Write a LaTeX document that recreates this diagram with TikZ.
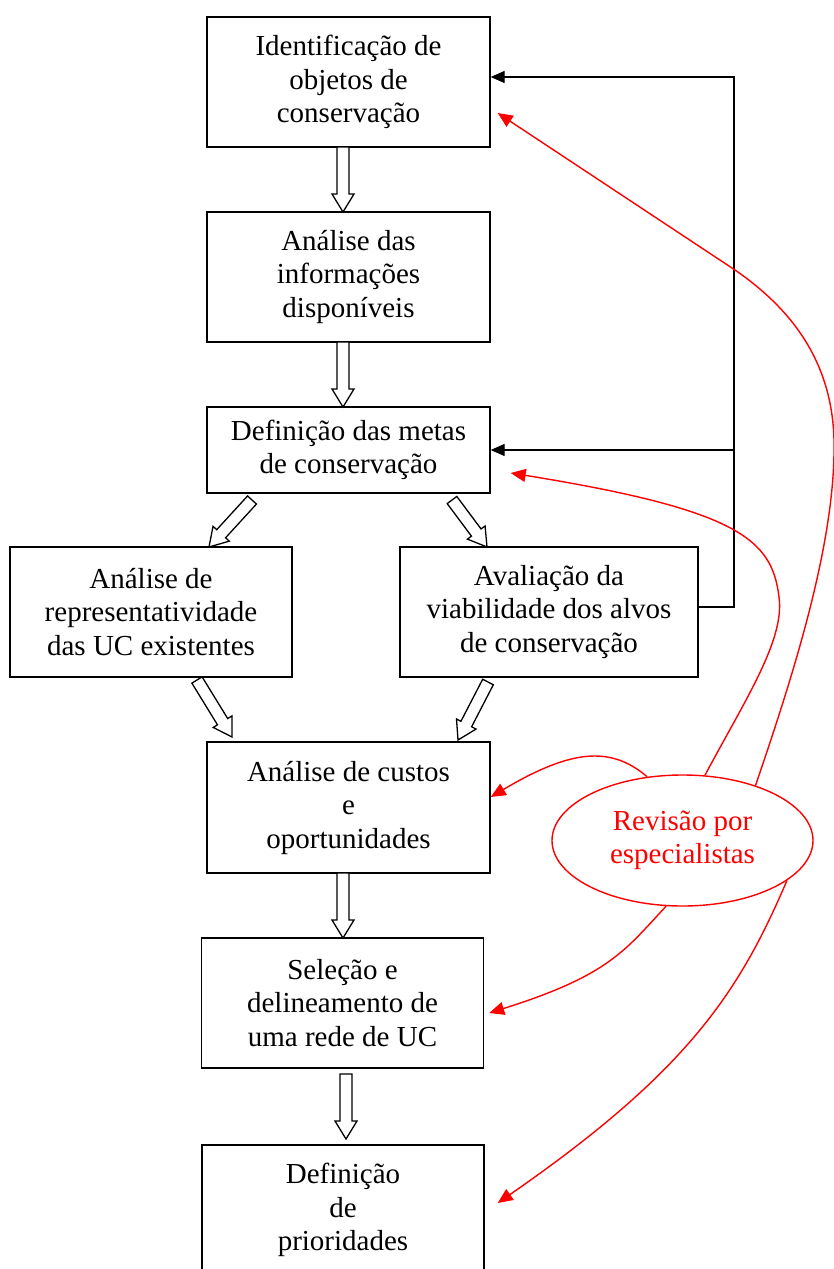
\documentclass[tikz,border=0pt]{standalone}
\usepackage{fontspec}
\setmainfont{Liberation Serif}
\usetikzlibrary{calc,shapes.geometric,arrows.meta}
\newcommand{\blockarrow}[2]{%
  \path ($(#2)!18pt!(#1)$) coordinate (hh);
  \draw[blkarrow] ($(#1)!6pt!90:(#2)$) -- ($(hh)!6pt!90:(#2)$) -- ($(hh)!11pt!90:(#2)$) -- (#2)
     -- ($(hh)!11pt!-90:(#2)$) -- ($(hh)!6pt!-90:(#2)$) -- ($(#1)!6pt!-90:(#2)$) -- cycle;}
\tikzset{
  box/.style={draw, line width=1.4pt, minimum height=130pt, inner sep=0pt, align=center,
    font=\fontsize{29}{33.5}\selectfont},
  blkarrow/.style={draw, line width=1.3pt, fill=white, line join=miter},
  fbl/.style={line width=1.4pt, -{Triangle[length=14pt,width=12pt]}},
  rev/.style={draw=red, text=red, ellipse, line width=1.4pt, minimum width=261pt, minimum height=131pt,
    inner sep=0pt, align=center, font=\fontsize{29}{33.5}\selectfont},
  rl/.style={red, line width=1.4pt, -{Triangle[length=15pt,width=13pt]}}
}
\begin{document}
\begin{tikzpicture}[x=1pt,y=-1pt]
\useasboundingbox[fill=white] (0,0) rectangle (834,1269);
\node[box, minimum width=283pt] (b1) at (348.5,82) {Identificação de\\objetos de\\conservação};
\node[box, minimum width=283pt] (b2) at (348.5,277) {Análise das\\informações\\disponíveis};
\node[box, minimum width=283pt, minimum height=86pt] (b3) at (348.5,450) {Definição das metas\\de conservação};
\node[box, minimum width=282pt] (b4) at (151,612) {Análise de\\representatividade\\das UC existentes};
\node[box, minimum width=298pt] (b5) at (549,612) {Avaliação da\\viabilidade dos alvos\\de conservação};
\node[box, minimum width=283pt, minimum height=131pt] (b6) at (348.5,807.5) {Análise de custos\\e\\oportunidades};
\node[box, minimum width=282pt] (b7) at (342.5,1003) {Seleção e\\delineamento de\\uma rede de UC};
\node[box, minimum width=282pt] (b8) at (343,1210) {Definição\\de\\prioridades};
\node[rev] (rv) at (682.5,840.5) {Revisão por\\especialistas};

% hollow block arrows
\coordinate (s12) at (343,147); \coordinate (e12) at (343,212);
\coordinate (s23) at (343,342); \coordinate (e23) at (343,407);
\coordinate (s34) at (252,500); \coordinate (e34) at (209,547);
\coordinate (s35) at (452,500); \coordinate (e35) at (487,547);
\coordinate (s46) at (197,680); \coordinate (e46) at (232,737);
\coordinate (s56) at (488,682); \coordinate (e56) at (458,740);
\coordinate (s67) at (343,873); \coordinate (e67) at (343,938);
\coordinate (s78) at (346,1074); \coordinate (e78) at (346,1139);
\blockarrow{s12}{e12}
\blockarrow{s23}{e23}
\blockarrow{s34}{e34}
\blockarrow{s35}{e35}
\blockarrow{s46}{e46}
\blockarrow{s56}{e56}
\blockarrow{s67}{e67}
\blockarrow{s78}{e78}

% black feedback lines
\coordinate (bt) at (734,77);
\draw[fbl] ([yshift=5pt]b5.east) -| (bt) -- ([yshift=5pt]b1.east);
\draw[fbl] (b3.east -| bt) -- (b3.east);

% red review curves
\draw[rl] (rv.37.8) .. controls (795,670) and (836,540) .. (834,440)
   .. controls (832,360) and (790,308) .. (735,270) -- ([xshift=7pt,yshift=-31pt]b1.east);
\draw[rl] (rv.71.6) .. controls (745,700) and (785,640) .. (779,597)
   .. controls (772,540) and (740,510) .. ([xshift=20pt,yshift=-23pt]b3.east);
\draw[rl] (rv.119.2) .. controls (610,745) and (570,750) .. ([yshift=10.5pt]b6.east);
\draw[rl] (rv.256) .. controls (625,950) and (610,975) .. ([xshift=5pt,yshift=-10pt]b7.east);
\draw[rl] (rv.-21.6) .. controls (740,990) and (690,1070) .. ([xshift=13pt,yshift=7pt]b8.east);
\end{tikzpicture}
\end{document}
